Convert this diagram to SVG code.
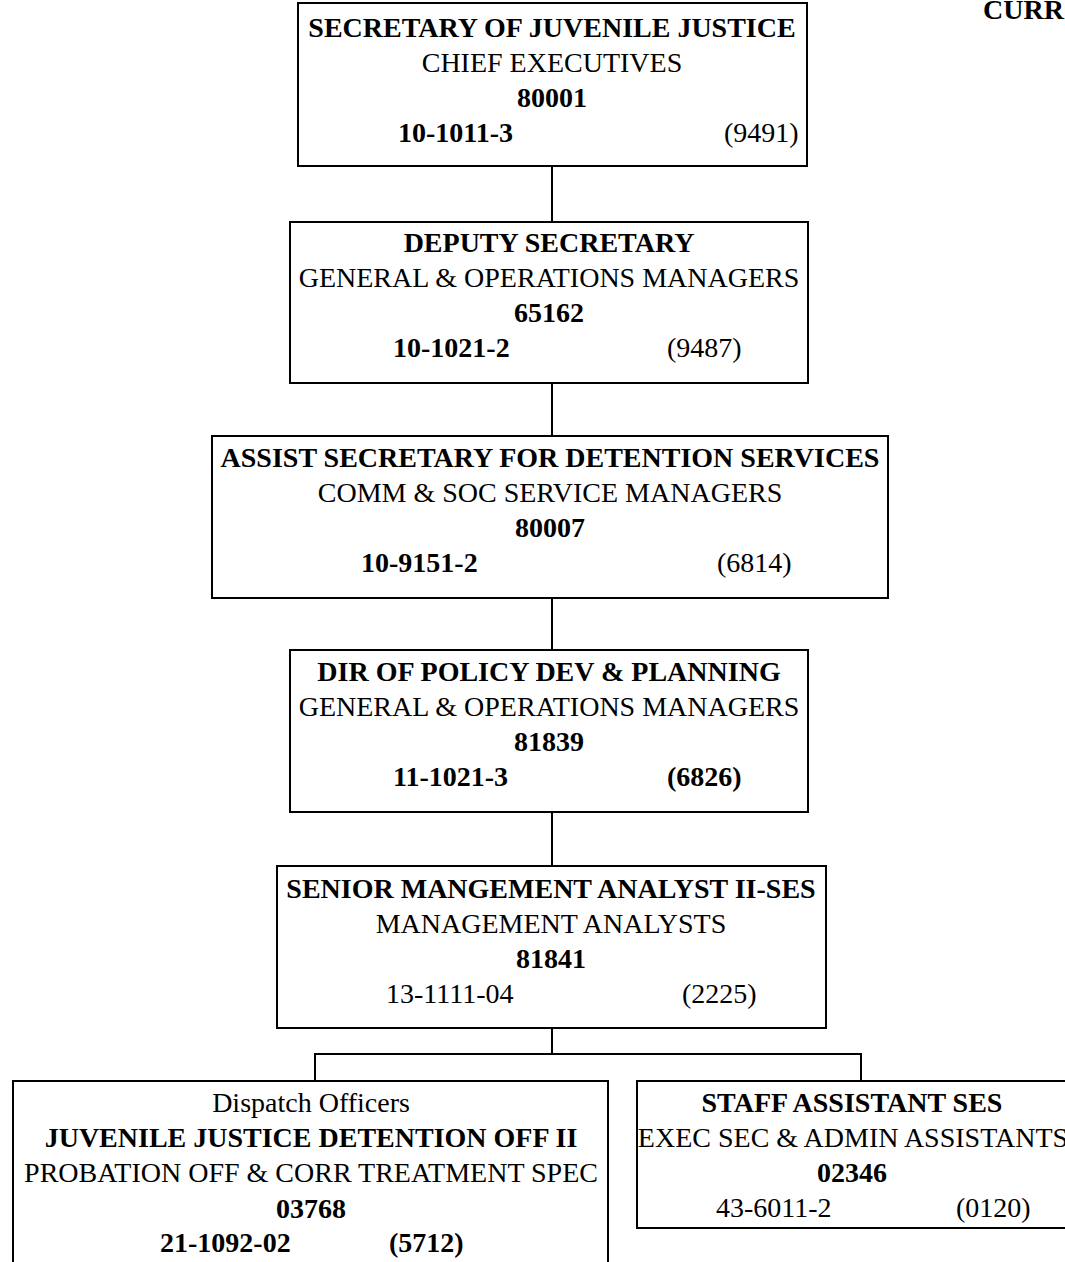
<svg xmlns="http://www.w3.org/2000/svg" width="1065" height="1262" viewBox="0 0 1065 1262">
  <style>
    .box { fill: #ffffff; stroke: #000000; stroke-width: 2; }
    .link { fill: none; stroke: #000000; stroke-width: 2; }
    text { font-family: "Liberation Serif", "Times New Roman", serif; font-size: 28px; fill: #000000; }
    .c { text-anchor: middle; }
    .b { font-weight: bold; }
  </style>
  <rect width="1065" height="1262" fill="#ffffff"/>

  <text id="page-title" class="b" x="983" y="19">CURR</text>

  <g id="connectors">
    <line class="link" x1="552" y1="166" x2="552" y2="222"/>
    <line class="link" x1="552" y1="383" x2="552" y2="436"/>
    <line class="link" x1="552" y1="598" x2="552" y2="650"/>
    <line class="link" x1="552" y1="812" x2="552" y2="866"/>
    <path class="link" d="M552 1028 V1054 M315 1081 V1054 H861 V1081"/>
  </g>

  <g id="secretary">
    <rect class="box" x="298" y="3" width="509" height="163"/>
    <text class="c b" x="552" y="37">SECRETARY OF JUVENILE JUSTICE</text>
    <text class="c" x="552" y="72">CHIEF EXECUTIVES</text>
    <text class="c b" x="552" y="107">80001</text>
    <text class="b" x="398" y="142">10-1011-3</text>
    <text x="724" y="142">(9491)</text>
  </g>

  <g id="deputy-secretary">
    <rect class="box" x="290" y="222" width="518" height="161"/>
    <text class="c b" x="549" y="252">DEPUTY SECRETARY</text>
    <text class="c" x="549" y="287">GENERAL &amp; OPERATIONS MANAGERS</text>
    <text class="c b" x="549" y="322">65162</text>
    <text class="b" x="393" y="357">10-1021-2</text>
    <text x="667" y="357">(9487)</text>
  </g>

  <g id="assist-secretary">
    <rect class="box" x="212" y="436" width="676" height="162"/>
    <text class="c b" x="550" y="467">ASSIST SECRETARY FOR DETENTION SERVICES</text>
    <text class="c" x="550" y="502">COMM &amp; SOC SERVICE MANAGERS</text>
    <text class="c b" x="550" y="537">80007</text>
    <text class="b" x="361" y="572">10-9151-2</text>
    <text x="717" y="572">(6814)</text>
  </g>

  <g id="dir-policy">
    <rect class="box" x="290" y="650" width="518" height="162"/>
    <text class="c b" x="549" y="681">DIR OF POLICY DEV &amp; PLANNING</text>
    <text class="c" x="549" y="716">GENERAL &amp; OPERATIONS MANAGERS</text>
    <text class="c b" x="549" y="751">81839</text>
    <text class="b" x="393" y="786">11-1021-3</text>
    <text class="b" x="667" y="786">(6826)</text>
  </g>

  <g id="senior-analyst">
    <rect class="box" x="277" y="866" width="549" height="162"/>
    <text class="c b" x="551" y="898">SENIOR MANGEMENT ANALYST II-SES</text>
    <text class="c" x="551" y="933">MANAGEMENT ANALYSTS</text>
    <text class="c b" x="551" y="968">81841</text>
    <text x="386" y="1003">13-1111-04</text>
    <text x="682" y="1003">(2225)</text>
  </g>

  <g id="detention-officer">
    <rect class="box" x="13" y="1081" width="595" height="200"/>
    <text class="c" x="311" y="1112">Dispatch Officers</text>
    <text class="c b" x="311" y="1147">JUVENILE JUSTICE DETENTION OFF II</text>
    <text class="c" x="311" y="1182">PROBATION OFF &amp; CORR TREATMENT SPEC</text>
    <text class="c b" x="311" y="1218">03768</text>
    <text class="b" x="160" y="1252">21-1092-02</text>
    <text class="b" x="389" y="1252">(5712)</text>
  </g>

  <g id="staff-assistant">
    <rect class="box" x="637" y="1081" width="440" height="147"/>
    <text class="c b" x="852" y="1112">STAFF ASSISTANT SES</text>
    <text class="c" x="853" y="1147">EXEC SEC &amp; ADMIN ASSISTANTS</text>
    <text class="c b" x="852" y="1182">02346</text>
    <text x="716" y="1217">43-6011-2</text>
    <text x="956" y="1217">(0120)</text>
  </g>
</svg>
